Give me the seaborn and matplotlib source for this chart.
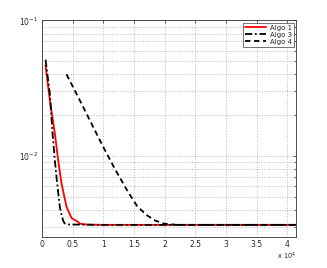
import numpy as np
import pandas as pd
import matplotlib
matplotlib.use("Agg")
import matplotlib.pyplot as plt
import seaborn as sns
from matplotlib.ticker import FixedLocator, LogLocator, NullFormatter

# ---- data ----
algo1_x = [600, 1300, 2120, 2660, 3200, 4020, 4840, 5860, 6190, 7490, 10000, 20000, 30000, 41400]
algo1_y = [0.0467, 0.0258, 0.0147, 0.0093, 0.0063, 0.00424, 0.0035, 0.00329, 0.00318, 0.00313, 0.00312, 0.00312, 0.00312, 0.00312]

algo3_x = [600, 1300, 1740, 2120, 2490, 2930, 3150, 3470, 3700, 4280, 10000, 20000, 30000, 41400]
algo3_y = [0.0514, 0.0289, 0.0147, 0.0093, 0.0063, 0.00424, 0.0038, 0.00335, 0.00320, 0.00314, 0.00312, 0.00312, 0.00312, 0.00312]

algo4_x = [4020, 6000, 8000, 10000, 12000, 14000, 15500, 17000, 18500, 20000, 22000, 30000, 41400]
algo4_y = [0.0401, 0.0268, 0.0177, 0.0117, 0.0079, 0.0055, 0.0043, 0.0037, 0.00335, 0.00318, 0.00312, 0.00312, 0.00312]

series_names = ["Algo 1", "Algo 3", "Algo 4"]
x_ticks = [0, 5000, 10000, 15000, 20000, 25000, 30000, 35000, 40000]
x_tick_labels = ["0", "0.5", "1", "1.5", "2", "2.5", "3", "3.5", "4"]
y_ticks = [1e-2, 1e-1]
y_tick_labels = [r"$10^{-2}$", r"$10^{-1}$"]

frames = []
for name, xs, ys in zip(series_names, [algo1_x, algo3_x, algo4_x], [algo1_y, algo3_y, algo4_y]):
    frames.append(pd.DataFrame({"x": xs, "y": ys, "algo": name}))
df = pd.concat(frames, ignore_index=True)

sns.set_style("white")
plt.rcParams["font.family"] = ["DejaVu Sans"]

fig = plt.figure(figsize=(3.27, 2.68), dpi=100)
ax = fig.add_axes([0.128, 0.1157, 0.777, 0.808])

palette = {"Algo 1": "#ff0000", "Algo 3": "#000000", "Algo 4": "#000000"}
for name in series_names:
    sub = df[df["algo"] == name]
    sns.lineplot(data=sub, x="x", y="y", ax=ax, color=palette[name],
                 linewidth=1.3, label=name, sort=False, estimator=None)
ls = ax.get_lines()
ls[0].set_linestyle("-")
ls[1].set_dashes([4, 1.5, 1, 1.5])
ls[2].set_dashes([3, 2])

ax.set_yscale("log")
ax.set_xlim(0, 41400)
ax.set_ylim(0.00254, 0.1)

ax.xaxis.set_major_locator(FixedLocator(x_ticks))
ax.set_xticklabels(x_tick_labels)
ax.yaxis.set_major_locator(FixedLocator(y_ticks))
ax.set_yticklabels(y_tick_labels)
ax.yaxis.set_minor_locator(LogLocator(base=10, subs=np.arange(2, 10)))
ax.yaxis.set_minor_formatter(NullFormatter())

ax.grid(True, which="major", axis="both", linestyle=":", color="#b8b8b8", linewidth=0.7)
ax.grid(True, which="minor", axis="y", linestyle=":", color="#b8b8b8", linewidth=0.7)

ax.tick_params(axis="both", which="both", direction="in", labelsize=5.5, top=True, right=True,
               length=2.5, width=0.5, pad=2.5)
ax.tick_params(axis="y", which="minor", length=1.5)
for s in ax.spines.values():
    s.set_linewidth(0.6)
    s.set_color("#333333")

ax.set_xlabel("")
ax.set_ylabel("")
ax.text(1.0, -0.088, r"x $10^{4}$", transform=ax.transAxes, fontsize=4.8, ha="right", va="center")

leg = ax.legend(loc="upper right", fontsize=5, frameon=True, fancybox=False, edgecolor="#333333",
                handlelength=3.0, borderpad=0.3, labelspacing=0.15, handletextpad=0.5,
                borderaxespad=0.3)
leg.get_frame().set_linewidth(0.6)

fig.savefig("out.png", dpi=100)
